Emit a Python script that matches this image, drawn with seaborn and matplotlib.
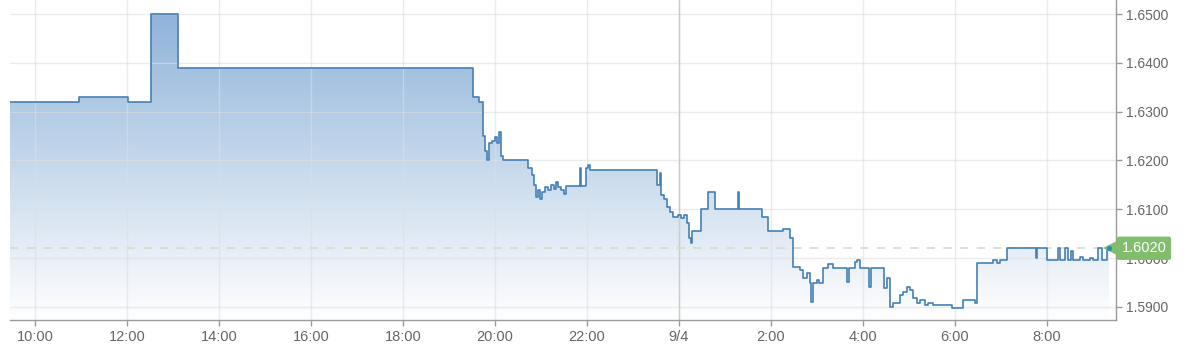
import numpy as np
import pandas as pd
import matplotlib
matplotlib.use("Agg")
import matplotlib.pyplot as plt
import matplotlib.transforms as mtransforms
from matplotlib.colors import LinearSegmentedColormap
import seaborn as sns

# ---------------- data ----------------
times = [
    "3 09:27", "3 10:57", "3 12:01", "3 12:31", "3 13:07", "3 19:31", "3 19:39",
    "3 19:44", "3 19:47", "3 19:50", "3 19:52", "3 19:56", "3 20:00", "3 20:03",
    "3 20:05", "3 20:08", "3 20:10", "3 20:43", "3 20:48", "3 20:51", "3 20:53",
    "3 20:56", "3 20:59", "3 21:01", "3 21:05", "3 21:09", "3 21:13", "3 21:17",
    "3 21:20", "3 21:22", "3 21:26", "3 21:30", "3 21:33", "3 21:51", "3 21:52",
    "3 21:59", "3 22:01", "3 22:04", "3 23:31", "3 23:35", "3 23:36", "3 23:40",
    "3 23:44", "3 23:48", "3 23:52", "3 23:59", "4 00:03", "4 00:07", "4 00:10",
    "4 00:13", "4 00:16", "4 00:17", "4 00:29", "4 00:38", "4 00:47", "4 01:17",
    "4 01:18", "4 01:48", "4 01:56", "4 02:16", "4 02:25", "4 02:29", "4 02:38",
    "4 02:42", "4 02:47", "4 02:51", "4 02:52", "4 02:55", "4 03:00", "4 03:03",
    "4 03:08", "4 03:14", "4 03:21", "4 03:39", "4 03:42", "4 03:50", "4 03:52",
    "4 03:56", "4 04:08", "4 04:10", "4 04:27", "4 04:31", "4 04:35", "4 04:39",
    "4 04:48", "4 04:52", "4 04:57", "4 05:01", "4 05:05", "4 05:10", "4 05:14",
    "4 05:21", "4 05:25", "4 05:31", "4 05:56", "4 06:10", "4 06:26", "4 06:29",
    "4 06:50", "4 06:55", "4 06:59", "4 07:08", "4 07:46", "4 07:47", "4 08:00",
    "4 08:14", "4 08:17", "4 08:24", "4 08:28", "4 08:31", "4 08:34", "4 08:43",
    "4 08:47", "4 08:56", "4 09:00", "4 09:07", "4 09:12", "4 09:18", "4 09:21",
]
values = [
    1.6320, 1.6330, 1.6320, 1.6500, 1.6390, 1.6330, 1.6320,
    1.6250, 1.6220, 1.6200, 1.6235, 1.6240, 1.6248, 1.6235,
    1.6258, 1.6210, 1.6200, 1.6185, 1.6170, 1.6150, 1.6125,
    1.6140, 1.6120, 1.6135, 1.6145, 1.6140, 1.6150, 1.6142,
    1.6155, 1.6145, 1.6140, 1.6132, 1.6148, 1.6185, 1.6148,
    1.6185, 1.6190, 1.6180, 1.6150, 1.6175, 1.6130, 1.6120,
    1.6105, 1.6095, 1.6085, 1.6088, 1.6082, 1.6088, 1.6072,
    1.6040, 1.6030, 1.6055, 1.6100, 1.6135, 1.6100, 1.6135,
    1.6100, 1.6085, 1.6055, 1.6060, 1.6040, 1.5982, 1.5975,
    1.5959, 1.5969, 1.5949, 1.5910, 1.5949, 1.5955, 1.5949,
    1.5980, 1.5988, 1.5980, 1.5951, 1.5980, 1.5992, 1.5996,
    1.5980, 1.5941, 1.5980, 1.5939, 1.5959, 1.5900, 1.5908,
    1.5924, 1.5930, 1.5940, 1.5934, 1.5918, 1.5908, 1.5914,
    1.5904, 1.5908, 1.5904, 1.5898, 1.5914, 1.5908, 1.5990,
    1.5996, 1.5990, 1.5996, 1.6020, 1.6000, 1.6020, 1.5996,
    1.6020, 1.5996, 1.6020, 1.5996, 1.6015, 1.5996, 1.6002,
    1.5996, 1.6000, 1.5996, 1.6020, 1.5996, 1.6020, 1.6020,
]
x_tick_hours = [10, 12, 14, 16, 18, 20, 22, 24, 26, 28, 30, 32]
x_tick_labels = ["10:00", "12:00", "14:00", "16:00", "18:00", "20:00", "22:00",
                 "9/4", "2:00", "4:00", "6:00", "8:00"]
y_ticks = [1.5900, 1.6000, 1.6100, 1.6200, 1.6300, 1.6400, 1.6500]
y_tick_labels = ["1.5900", "1.6000", "1.6100", "1.6200", "1.6300", "1.6400", "1.6500"]
last_label = "1.6020"
last_value = 1.6020


def to_hours(s):
    d, hm = s.split()
    h, m = hm.split(":")
    return (int(d) - 3) * 24 + int(h) + int(m) / 60.0


df = pd.DataFrame({"t": [to_hours(s) for s in times], "v": values})

# ---------------- style ----------------
sns.set_theme(style="white")
plt.rcParams["font.family"] = ["Liberation Sans", "DejaVu Sans"]

fig = plt.figure(figsize=(12, 3.53), dpi=100)
ax = fig.add_axes([10 / 1200, 33 / 353, 1106 / 1200, 320 / 353])

xlim = (9.4565, 33.50)
ylim = (1.58730, 1.65287)

line_color = "#4580b5"

# gradient fill under the curve
poly = ax.fill_between(df["t"], df["v"], ylim[0], step="post",
                       facecolor="none", edgecolor="none")
cmap = LinearSegmentedColormap.from_list("g", ["#ffffff", "#8ab0d8"])
grad = np.linspace(1, 0, 256).reshape(-1, 1)
im = ax.imshow(grad, extent=[xlim[0], xlim[1], ylim[0], ylim[1]],
               aspect="auto", cmap=cmap, origin="upper", zorder=1,
               interpolation="bilinear")
im.set_clip_path(poly.get_paths()[0], poly.get_transform())

sns.lineplot(data=df, x="t", y="v", ax=ax, drawstyle="steps-post",
             color=line_color, linewidth=1.2, estimator=None, sort=False,
             zorder=3)

# day separator
ax.axvline(24, color="#cccccc", linewidth=1, zorder=1.6)

# last-price dashed line
ax.axhline(last_value, color="#d4dccb", linewidth=1.2, dashes=(5, 5), zorder=1.7)

ax.set_xlim(*xlim)
ax.set_ylim(*ylim)

ax.set_xticks(x_tick_hours)
ax.set_xticklabels(x_tick_labels)
ax.set_yticks(y_ticks)
ax.set_yticklabels(y_tick_labels)
ax.yaxis.tick_right()
ax.set_xlabel("")
ax.set_ylabel("")

ax.set_axisbelow("line")
ax.grid(True, color="#dedede", linewidth=1, alpha=0.6)

for s in ["left", "top"]:
    ax.spines[s].set_visible(False)
for s in ["bottom", "right"]:
    ax.spines[s].set_color("#9a9a9a")
    ax.spines[s].set_linewidth(1)

ax.tick_params(axis="x", which="both", direction="out", length=4, width=1,
               color="#9a9a9a", labelcolor="#666666", labelsize=10.5, pad=3,
               bottom=True)
ax.tick_params(axis="y", which="both", direction="out", length=4, width=1,
               color="#9a9a9a", labelcolor="#666666", labelsize=10, pad=3,
               right=True, left=False)

# green price label with arrow
blend = mtransforms.blended_transform_factory(ax.transAxes, ax.transData)
ax.plot([1.0], [last_value], marker="<", markersize=13, color="#80bd6c",
        transform=mtransforms.offset_copy(blend, fig=fig, x=-4, y=0, units="dots"),
        clip_on=False, zorder=5, markeredgewidth=0)
ax.annotate(last_label, xy=(1.0, last_value), xycoords=blend,
            xytext=(4, 0), textcoords="offset points", ha="left", va="center",
            color="white", fontsize=10.5, zorder=6, annotation_clip=False,
            bbox=dict(boxstyle="round,pad=0.32,rounding_size=0.15",
                      facecolor="#80bd6c", edgecolor="none"))

# end dot
ax.scatter([df["t"].iloc[-1]], [df["v"].iloc[-1]], s=14, color="#2f8cab",
           zorder=7, clip_on=False, linewidths=0)

fig.savefig("out.png", dpi=100)
